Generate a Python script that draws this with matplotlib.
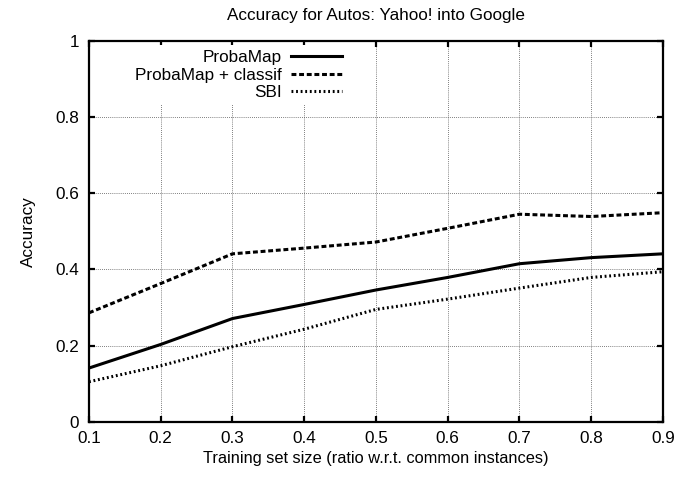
import matplotlib
matplotlib.use("Agg")
import matplotlib.pyplot as plt

plt.rcParams['font.family'] = ['Liberation Sans', 'DejaVu Sans']

# training set ratio
train_size = [0.1, 0.2, 0.3, 0.4, 0.5, 0.6, 0.7, 0.8, 0.9]

# accuracy per method
probamap = [0.141, 0.203, 0.271, 0.308, 0.346, 0.379, 0.415, 0.431, 0.441]
probamap_classif = [0.286, 0.363, 0.441, 0.456, 0.472, 0.508, 0.545, 0.539, 0.549]
sbi = [0.105, 0.147, 0.197, 0.243, 0.295, 0.322, 0.351, 0.379, 0.394]

x_ticks = [0.1, 0.2, 0.3, 0.4, 0.5, 0.6, 0.7, 0.8, 0.9]
y_ticks = [0, 0.2, 0.4, 0.6, 0.8, 1]
y_tick_labels = ["0", "0.2", "0.4", "0.6", "0.8", "1"]

fs = 12.3

fig = plt.figure(figsize=(6.82, 4.79), dpi=100)
ax = fig.add_axes([0.1305, 0.1196, 0.8416, 0.7948])

ax.plot(train_size, probamap, color='black', lw=2.2, ls='-', label='ProbaMap')
ax.plot(train_size, probamap_classif, color='black', lw=2.2, ls=(0, (1.6, 0.9)),
        label='ProbaMap + classif')
ax.plot(train_size, sbi, color='black', lw=2.2, ls=(0, (0.6, 0.9)), label='SBI')

ax.set_xlim(0.1, 0.9)
ax.set_ylim(0, 1)
ax.set_xticks(x_ticks)
ax.set_xticklabels([str(t) for t in x_ticks])
ax.set_yticks(y_ticks)
ax.set_yticklabels(y_tick_labels)

ax.grid(True, color='#555555', ls=(0, (1, 1.5)), lw=0.6)
for s in ax.spines.values():
    s.set_linewidth(1.6)
ax.tick_params(direction='in', length=4, width=1.6, top=True, right=True,
               labelsize=fs, pad=7)

ax.set_title("Accuracy for Autos: Yahoo! into Google", fontsize=fs, pad=15)
ax.set_xlabel("Training set size (ratio w.r.t. common instances)", fontsize=11.8, labelpad=3)
ax.set_ylabel("Accuracy", fontsize=fs, labelpad=14)

# gnuplot-style opaque key: hides the grid behind it
leg = ax.legend(loc='upper right', bbox_to_anchor=(347 / 682, 1 - 45 / 479),
                bbox_transform=fig.transFigure, frameon=True, fancybox=False,
                facecolor='white', edgecolor='none', framealpha=1,
                markerfirst=False, fontsize=fs, handlelength=3.0,
                handletextpad=0.5, labelspacing=0.14, borderpad=0.3,
                borderaxespad=0)

plt.savefig("out.png", dpi=100)
